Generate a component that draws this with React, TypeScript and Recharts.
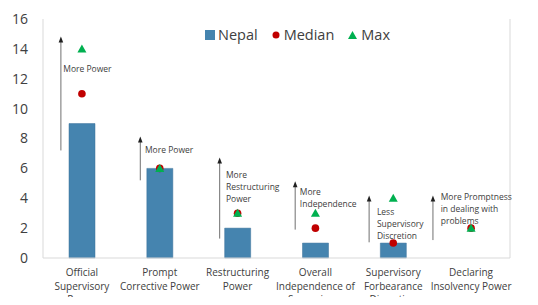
import React from 'react';
import { ComposedChart, Bar, Scatter, XAxis, YAxis, ReferenceLine, ReferenceDot, Legend } from 'recharts';

const categories = [
  'Official\nSupervisory\nPower',
  'Prompt\nCorrective Power',
  'Restructuring\nPower',
  'Overall\nIndependence of\nSupervisory\nPower',
  'Supervisory\nForbearance\nDiscretion',
  'Declaring\nInsolvency Power',
];
const nepal: (number | null)[] = [9, 6, 2, 1, 1, null];
const median = [11, 6, 3, 2, 1, 2];
const maxVals = [14, 6, 3, 3, 4, 2];
const yTicks = [0, 2, 4, 6, 8, 10, 12, 14, 16];
const title = '(index, as of 2011)';

// arrow annotations (x in category units, 0..6)
const arrowX = [0.23, 1.25, 2.27, 3.24, 4.19, 5.01];
const arrowBottom = [7.2, 5.2, 1.3, 1.9, 1.05, 1.2];
const arrowTop = [14.7, 8.0, 6.6, 5.0, 4.05, 4.05];

const noteX = [0.26, 1.31, 2.35, 3.3, 4.29, 5.11];
const noteY = [12.7, 7.25, 5.58, 4.45, 3.12, 4.1];
const noteText = [
  ['More Power'],
  ['More Power'],
  ['More', 'Restructuring', 'Power'],
  ['More', 'Independence'],
  ['Less', 'Supervisory', 'Discretion'],
  ['More Promptness', 'in dealing with', 'problems'],
];

const data = categories.map((c, i) => ({ name: c, pos: i + 0.5, nepal: nepal[i], median: median[i], max: maxVals[i] }));

const FONT = '"Open Sans", "Noto Sans", sans-serif';
const TEXT = '#404040';
const BAR = '#4584AF';
const RED = '#C00000';
const GREEN = '#00B050';

const XTick = (props: any) => {
  const { x, y, payload } = props;
  const lines = String(payload.value).split('\n');
  return (
    <g>
      {lines.map((l, i) => (
        <text key={i} x={x} y={y + 10 + i * 13.5} textAnchor="middle" fontSize={10} fill={TEXT} fontFamily={FONT}>
          {l}
        </text>
      ))}
    </g>
  );
};

const Triangle = (props: any) => {
  const { cx, cy } = props;
  if (cx == null || cy == null) return null;
  const s = 4.5;
  return <polygon points={`${cx},${cy - s} ${cx + s},${cy + s * 0.8} ${cx - s},${cy + s * 0.8}`} fill={GREEN} />;
};

const Dot = (props: any) => {
  const { cx, cy } = props;
  if (cx == null || cy == null) return null;
  return <circle cx={cx} cy={cy} r={3.8} fill={RED} />;
};

const ArrowShape = (props: any) => {
  const { x1, y1, x2, y2 } = props;
  const top = Math.min(y1, y2);
  const bot = Math.max(y1, y2);
  return (
    <g>
      <line x1={x1} y1={bot} x2={x2} y2={top + 3} stroke="#707070" strokeWidth={1} />
      <polygon points={`${x1},${top - 2} ${x1 + 2.3},${top + 4} ${x1 - 2.3},${top + 4}`} fill="#202020" />
    </g>
  );
};

const makeNote = (lines: string[]) => (props: any) => {
  const { cx, cy } = props;
  return (
    <g>
      {lines.map((l, i) => (
        <text key={i} x={cx} y={cy + i * 12} dominantBaseline="central" fontSize={8.5} fill={TEXT} fontFamily={FONT}>
          {l}
        </text>
      ))}
    </g>
  );
};

const renderLegend = () => (
  <div style={{ display: 'flex', alignItems: 'center', fontFamily: FONT, fontSize: 14.5, color: TEXT, whiteSpace: 'nowrap' }}>
    <span style={{ display: 'inline-block', width: 10, height: 10, background: BAR, marginRight: 3 }} />
    <span style={{ marginRight: 14 }}>Nepal</span>
    <svg width={8} height={8} style={{ marginRight: 4 }}>
      <circle cx={4} cy={4} r={3.5} fill={RED} />
    </svg>
    <span style={{ marginRight: 14 }}>Median</span>
    <svg width={9} height={8} style={{ marginRight: 4 }}>
      <polygon points="4.5,0 9,8 0,8" fill={GREEN} />
    </svg>
    <span>Max</span>
  </div>
);

export default function App() {
  return (
    <div style={{ position: 'relative', width: 538, height: 305, margin: -8, background: '#fff', overflow: 'hidden' }}>
      <ComposedChart width={538} height={305} data={data} margin={{ top: 19, right: 0, bottom: 0, left: 0 }}>
        <XAxis
          dataKey="name"
          xAxisId="cat"
          interval={0}
          height={47}
          tick={<XTick />}
          tickLine={false}
          axisLine={{ stroke: '#D9D9D9' }}
        />
        <XAxis
          xAxisId="num"
          dataKey="pos"
          type="number"
          domain={[0, 6]}
          orientation="top"
          height={0}
          tick={false}
          tickLine={false}
          axisLine={{ stroke: '#D9D9D9' }}
          allowDataOverflow
        />
        <YAxis
          yAxisId="left"
          domain={[0, 16]}
          ticks={yTicks}
          width={43}
          tickLine={false}
          tickMargin={9}
          axisLine={{ stroke: '#D9D9D9' }}
          tick={{ fontSize: 14, fill: TEXT, fontFamily: FONT }}
          interval={0}
        />
        <YAxis
          yAxisId="right"
          orientation="right"
          domain={[0, 16]}
          ticks={yTicks}
          width={28}
          tickLine={false}
          tickMargin={2}
          axisLine={{ stroke: '#D9D9D9' }}
          tick={{ fontSize: 14, fill: TEXT, fontFamily: FONT, textAnchor: 'start' }}
          interval={0}
        />
        <Legend
          layout="horizontal"
          verticalAlign="middle"
          align="center"
          content={renderLegend}
          wrapperStyle={{ top: 25, left: 205, width: 240, height: 20 }}
        />
        <Bar xAxisId="cat" yAxisId="left" dataKey="nepal" fill={BAR} stroke="#3A7199" strokeWidth={0.5} barSize={26} isAnimationActive={false} />
        <Scatter xAxisId="cat" yAxisId="left" dataKey="median" shape={<Dot />} isAnimationActive={false} />
        <Scatter xAxisId="cat" yAxisId="left" dataKey="max" shape={<Triangle />} isAnimationActive={false} />
        {arrowX.map((x, i) => (
          <ReferenceLine
            key={`a${i}`}
            xAxisId="num"
            yAxisId="left"
            segment={[
              { x, y: arrowBottom[i] },
              { x, y: arrowTop[i] },
            ]}
            shape={<ArrowShape />}
          />
        ))}
        {noteX.map((x, i) => (
          <ReferenceDot key={`n${i}`} xAxisId="num" yAxisId="left" x={x} y={noteY[i]} r={0} shape={makeNote(noteText[i])} />
        ))}
      </ComposedChart>
      <svg width={538} height={14} style={{ position: 'absolute', left: 0, top: 0, zIndex: 5, pointerEvents: 'none' }}>
        <text x={60} y={4} fontSize={12.5} fill="#5B9BD5" fontFamily={FONT}>
          {title}
        </text>
      </svg>
    </div>
  );
}
